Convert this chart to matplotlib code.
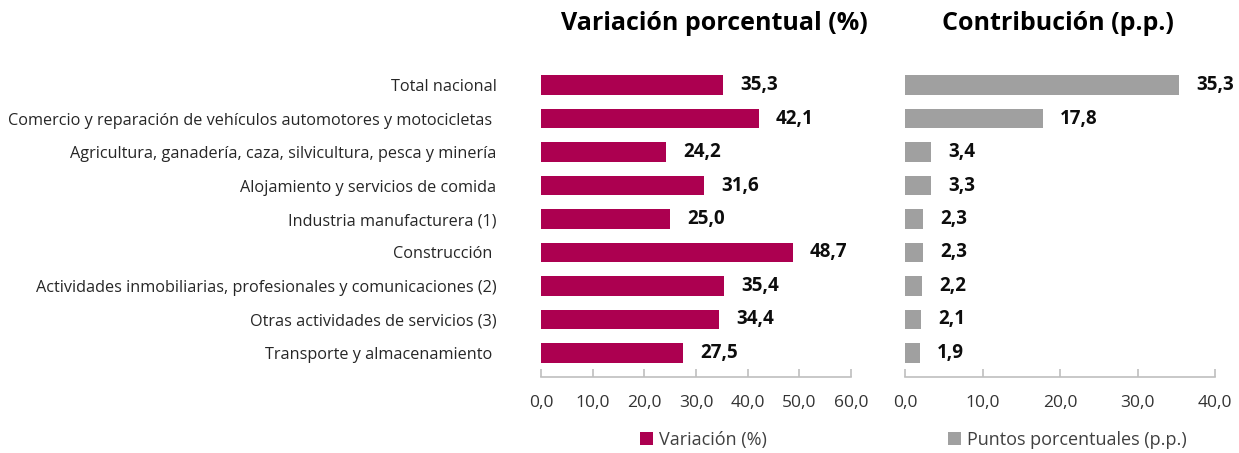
import matplotlib
matplotlib.use("Agg")
import matplotlib.pyplot as plt
from matplotlib.ticker import FuncFormatter, MultipleLocator

categories = [
    "Total nacional",
    "Comercio y reparación de vehículos automotores y motocicletas ",
    "Agricultura, ganadería, caza, silvicultura, pesca y minería",
    "Alojamiento y servicios de comida",
    "Industria manufacturera (1)",
    "Construcción ",
    "Actividades inmobiliarias, profesionales y comunicaciones (2)",
    "Otras actividades de servicios (3)",
    "Transporte y almacenamiento ",
]
variacion = [35.3, 42.1, 24.2, 31.6, 25.0, 48.7, 35.4, 34.4, 27.5]
contribucion = [35.3, 17.8, 3.4, 3.3, 2.3, 2.3, 2.2, 2.1, 1.9]

title_left = "Variación porcentual (%)"
title_right = "Contribución (p.p.)"
legend_left = "Variación (%)"
legend_right = "Puntos porcentuales (p.p.)"

plt.rcParams['font.family'] = ['Open Sans', 'DejaVu Sans']

W, H = 1239, 453
fig = plt.figure(figsize=(W / 100, H / 100), dpi=100)

bottom = 1 - 377 / H
top = 1 - 61 / H
axL = fig.add_axes([541 / W, bottom, 310 / W, top - bottom])
axR = fig.add_axes([905 / W, bottom, 310 / W, top - bottom])

fmt = FuncFormatter(lambda v, p: f"{v:.1f}".replace(".", ","))
ypos = list(range(len(categories)))

def style(ax, xmax, step):
    ax.set_xlim(0, xmax)
    ax.set_ylim(len(categories) - 1 + 0.72, -0.72)
    ax.xaxis.set_major_locator(MultipleLocator(step))
    ax.xaxis.set_major_formatter(fmt)
    for s in ["top", "right", "left"]:
        ax.spines[s].set_visible(False)
    ax.spines["bottom"].set_color("#BFBFBF")
    ax.spines["bottom"].set_linewidth(1.2)
    ax.tick_params(axis="x", direction="in", length=6, color="#BFBFBF", width=1.2,
                   labelsize=12.5, labelcolor="#333333", pad=13)

col_v = "#AC0050"
col_c = "#A0A0A0"

axL.barh(ypos, variacion, height=0.58, color=col_v, label=legend_left)
style(axL, 60, 10)
axL.set_yticks(ypos)
axL.set_yticklabels(categories, fontsize=11.7, color="#262626")
axL.tick_params(axis="y", length=0, pad=32)
for y, v in zip(ypos, variacion):
    axL.annotate(f"{v:.1f}".replace(".", ","), (v, y), xytext=(12.5, 0), textcoords="offset points",
                 va="center", ha="left", fontsize=13.5, fontweight="bold", color="#0D0D0D")

axR.barh(ypos, contribucion, height=0.58, color=col_c, label=legend_right)
style(axR, 40, 10)
axR.set_yticks([])
for y, v in zip(ypos, contribucion):
    axR.annotate(f"{v:.1f}".replace(".", ","), (v, y), xytext=(12.5, 0), textcoords="offset points",
                 va="center", ha="left", fontsize=13.5, fontweight="bold", color="#0D0D0D")

fig.text(714 / W, 1 - 24 / H, title_left, fontsize=18, fontweight="bold", ha="center", va="center")
fig.text(1058 / W, 1 - 24 / H, title_right, fontsize=18, fontweight="bold", ha="center", va="center")

for ax, cx in ((axL, 703), (axR, 1067)):
    ax.legend(loc="center", bbox_to_anchor=(cx / W, 1 - 440 / H), bbox_transform=fig.transFigure,
              frameon=False, fontsize=13, handlelength=0.75, handleheight=0.75,
              handletextpad=0.3, labelcolor="#404040", borderpad=0)

fig.savefig("out.png", dpi=100)
